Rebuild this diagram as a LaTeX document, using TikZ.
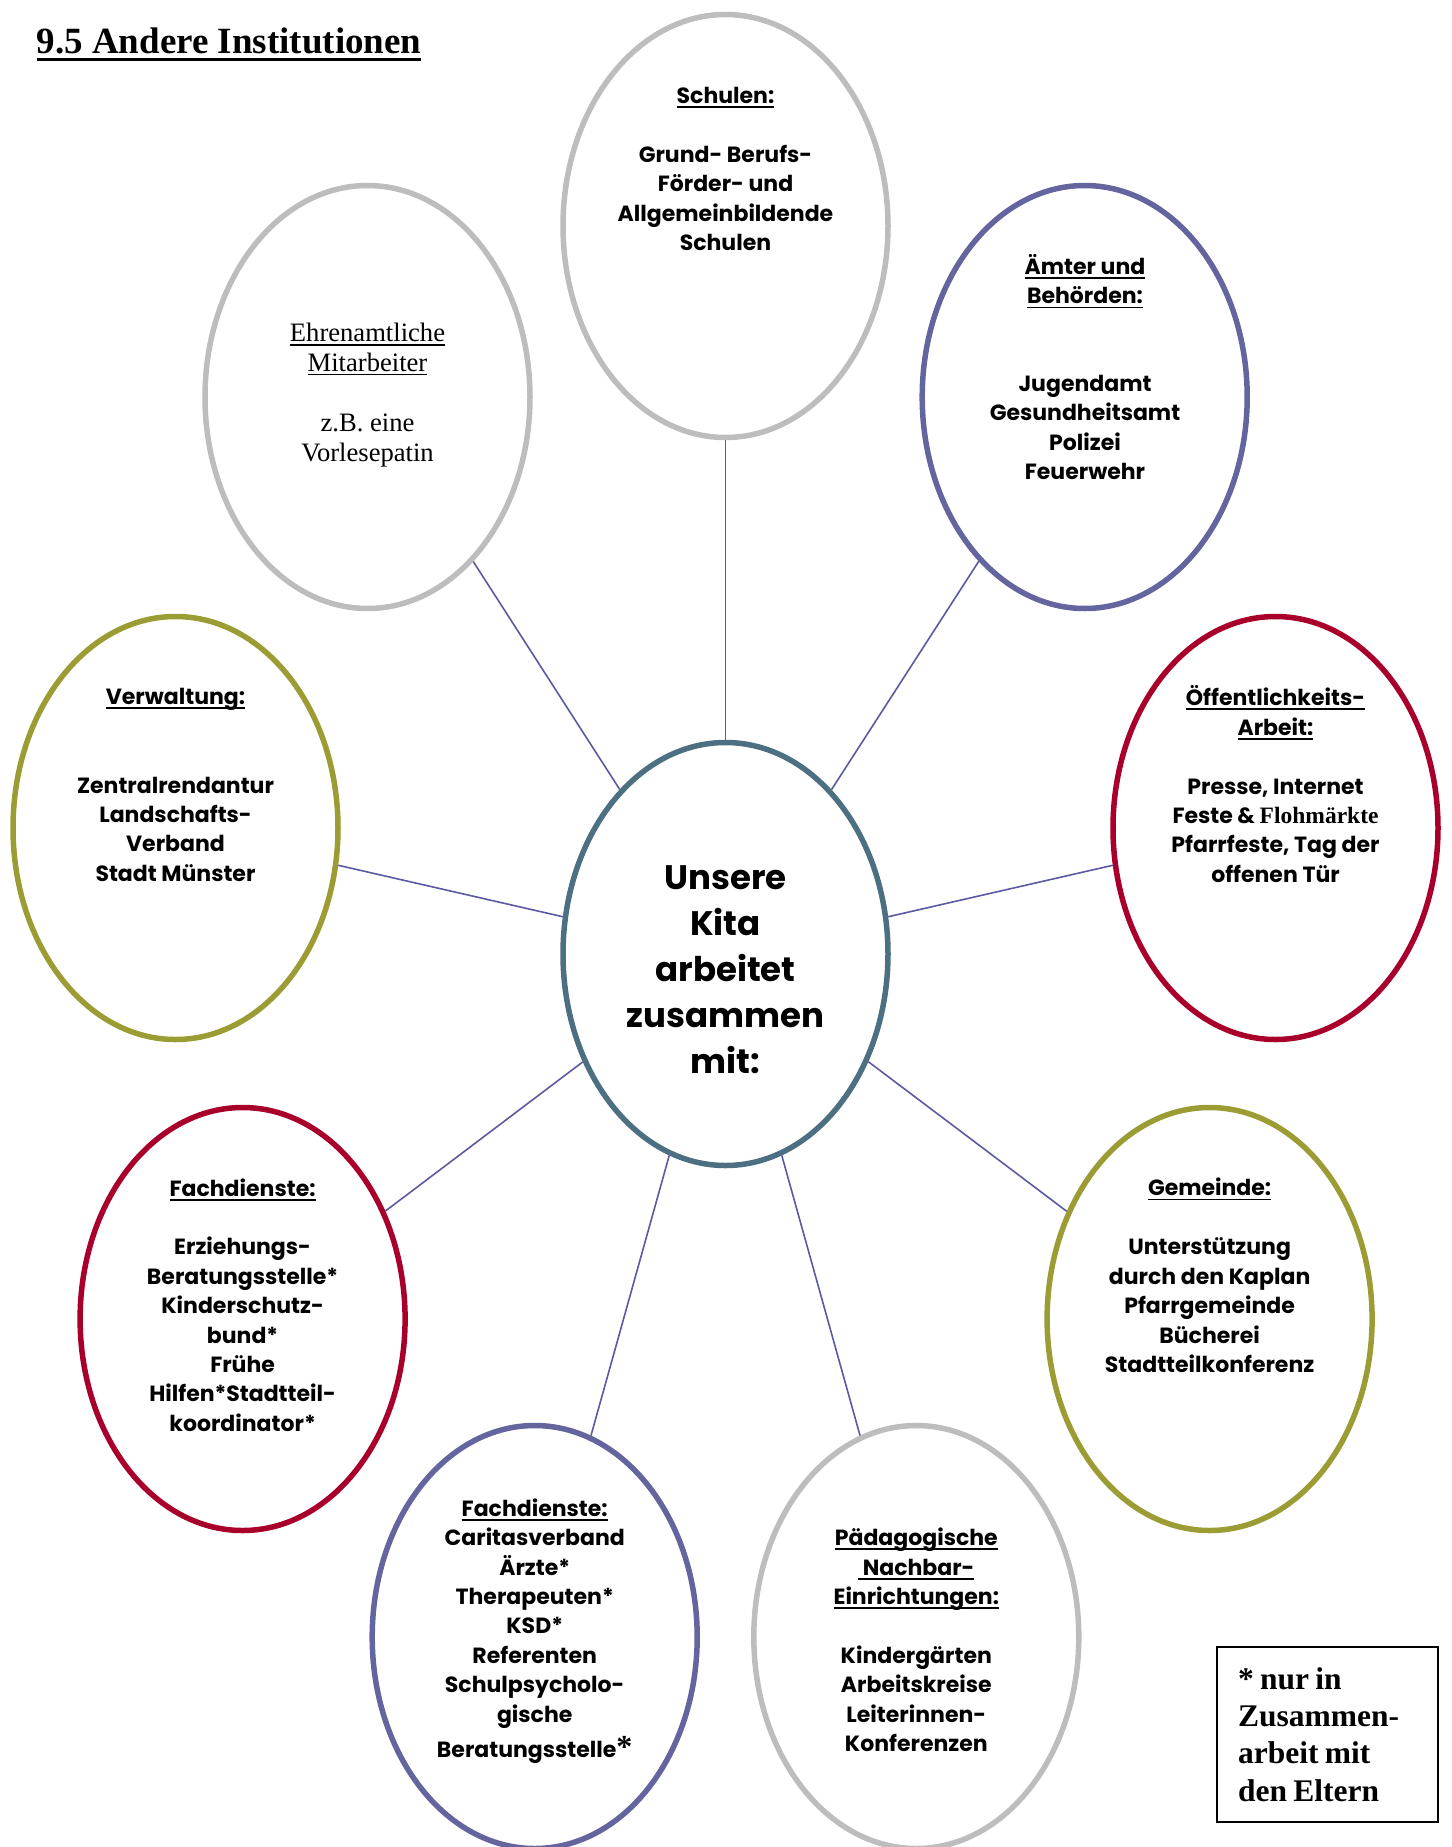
\documentclass[tikz,border=0pt]{standalone}
\usepackage{fontspec}
\setmainfont{Poppins}
\newfontfamily\tnr{Liberation Serif}
\newcommand\myul[3][1.8pt]{\setbox0\hbox{#3}\rlap{\rule[-#2]{\wd0}{#1}}\box0}
\newcommand\hul[1]{\myul{4.5pt}{#1}}
\usetikzlibrary{shapes.geometric}
\definecolor{cgray}{HTML}{BDBDBD}
\definecolor{cpurple}{HTML}{64649E}
\definecolor{colive}{HTML}{9C9C34}
\definecolor{cred}{HTML}{A8002A}
\definecolor{cteal}{HTML}{4D6F82}
\definecolor{cline}{HTML}{5B59A0}
\begin{document}
\begin{tikzpicture}[x=1pt,y=-1pt,
  oval/.style={ellipse, draw, line width=5.5pt, minimum width=325pt, minimum height=423pt, inner sep=0pt},
  txt/.style={align=center, font=\bfseries\fontsize{22}{29.4}\selectfont, inner sep=0pt},
  conn/.style={draw=cline, line width=1.6pt}]
\useasboundingbox (0,0) rectangle (1451,1847);

% title
\node[anchor=base west, inner sep=0pt, font=\tnr\bfseries\fontsize{37}{42}\selectfont] (title) at (36.5,53)
  {\myul[3.2pt]{8pt}{9.5 Andere Institutionen}};

% ellipses
\node[oval, draw=cteal] (center) at (725.5,954) {};
\node[oval, draw=cgray] (schulen) at (725.5,226) {};
\node[oval, draw=cgray] (ehren) at (367.5,397) {};
\node[oval, draw=cpurple] (aemter) at (1084.7,397) {};
\node[oval, draw=colive] (verw) at (175.5,828) {};
\node[oval, draw=cred] (oeff) at (1275.5,828) {};
\node[oval, draw=cred] (fachl) at (242.6,1319) {};
\node[oval, draw=colive] (gemeinde) at (1209.6,1319) {};
\node[oval, draw=cpurple] (fachb) at (534.7,1637) {};
\node[oval, draw=cgray] (paed) at (916.3,1637) {};

% connectors
\foreach \n in {schulen,ehren,aemter,verw,oeff,fachl,gemeinde,fachb,paed}
  \draw[conn] (center) -- (\n);

% texts
\node[txt, font=\bfseries\fontsize{34}{46}\selectfont] (tcenter) at (725.5,970)
  {Unsere\\Kita\\arbeitet\\zusammen\\mit:};
\node[txt] (tschulen) at (725.5,169)
  {\hul{Schulen:}\\[29.5pt]Grund- Berufs-\\Förder- und\\Allgemeinbildende\\Schulen};
\node[txt, font=\tnr\fontsize{26.6}{29.5}\selectfont] (tehren) at (367.5,395)
  {\myul[1.5pt]{4pt}{Ehrenamtliche}\\\myul[1.5pt]{4pt}{Mitarbeiter}\\[31pt]z.B. eine\\Vorlesepatin};
\node[txt] (taemter) at (1085,367)
  {\hul{Ämter und}\\\hul{Behörden:}\\[58pt]Jugendamt\\Gesundheitsamt\\Polizei\\Feuerwehr};
\node[txt] (tverw) at (175.5,785)
  {\hul{Verwaltung:}\\[59pt]Zentralrendantur\\Landschafts-\\Verband\\Stadt Münster};
\node[txt] (toeff) at (1275.5,784)
  {\hul{Öffentlichkeits-}\\\hul{Arbeit:}\\[29.5pt]Presse, Internet\\Feste \& {\tnr\fontsize{23.5}{29.4}\selectfont Flohmärkte}\\Pfarrfeste, Tag der\\offenen Tür};
\node[txt] (tfachl) at (242.6,1305)
  {\hul{Fachdienste:}\\[29.5pt]Erziehungs-\\Beratungsstelle*\\Kinderschutz-\\bund*\\Frühe\\Hilfen*Stadtteil-\\koordinator*};
\node[txt] (tgemeinde) at (1209.6,1275.5)
  {\hul{Gemeinde:}\\[29.5pt]Unterstützung\\durch den Kaplan\\Pfarrgemeinde\\Bücherei\\Stadtteilkonferenz};
\node[txt] (tfachb) at (534.7,1631)
  {\hul{Fachdienste:}\\Caritasverband\\Ärzte*\\Therapeuten*\\KSD*\\Referenten\\Schulpsycholo-\\gische\\[6pt]Beratungsstelle{\tnr\fontsize{32}{30}\selectfont*}};
\node[txt] (tpaed) at (916.3,1640)
  {\hul{Pädagogische}\\\hul{\ Nachbar-}\\\hul{Einrichtungen:}\\[29.5pt]Kindergärten\\Arbeitskreise\\Leiterinnen-\\Konferenzen};

% footnote box
\node[draw, line width=2pt, anchor=north west, minimum width=221pt, minimum height=175pt,
  text width=179pt, align=left, inner xsep=21pt, inner ysep=0pt,
  font=\tnr\bfseries\fontsize{31.5}{37.3}\selectfont] (note) at (1216,1646)
  {\spaceskip=0.2em plus 0.1em * nur in\\Zusammen-\\arbeit mit\\den Eltern};
\end{tikzpicture}
\end{document}
